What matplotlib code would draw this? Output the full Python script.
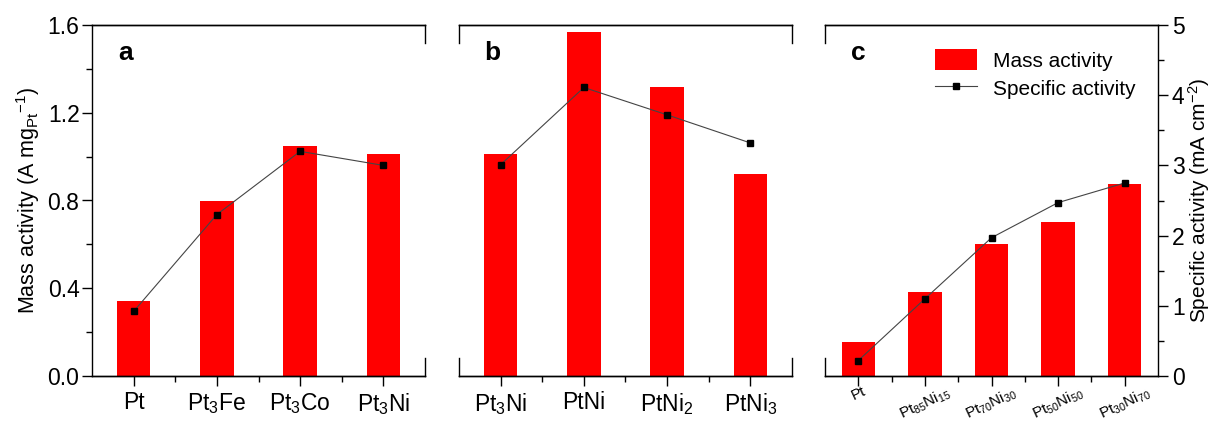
import matplotlib
matplotlib.use("Agg")
import matplotlib.pyplot as plt
import numpy as np
from matplotlib.ticker import MultipleLocator, FixedLocator

plt.rcParams['font.family'] = ['Liberation Sans', 'DejaVu Sans']
plt.rcParams['mathtext.fontset'] = 'custom'
plt.rcParams['mathtext.rm'] = 'Liberation Sans'
plt.rcParams['mathtext.it'] = 'Liberation Sans'
plt.rcParams['mathtext.bf'] = 'Liberation Sans:bold'

# panel a
labels_a = ["Pt", r"Pt$_3$Fe", r"Pt$_3$Co", r"Pt$_3$Ni"]
mass_a = [0.342, 0.798, 1.048, 1.013]
spec_a = [0.92, 2.30, 3.20, 3.00]

# panel b
labels_b = [r"Pt$_3$Ni", "PtNi", r"PtNi$_2$", r"PtNi$_3$"]
mass_b = [1.010, 1.567, 1.316, 0.919]
spec_b = [3.01, 4.11, 3.72, 3.32]

# panel c
labels_c = ["Pt", r"Pt$_{85}$Ni$_{15}$", r"Pt$_{70}$Ni$_{30}$",
            r"Pt$_{50}$Ni$_{50}$", r"Pt$_{30}$Ni$_{70}$"]
mass_c = [0.156, 0.383, 0.600, 0.703, 0.874]
spec_c = [0.22, 1.10, 1.97, 2.47, 2.75]

W, H = 1214, 423
fig = plt.figure(figsize=(W / 100, H / 100), dpi=100)

bottom = 1 - 376 / H
top = 1 - 25 / H
lefts = [92, 459, 825]
width_px = 333

panels = [
    ("a", labels_a, mass_a, spec_a, 0.4),
    ("b", labels_b, mass_b, spec_b, 0.4),
    ("c", labels_c, mass_c, spec_c, 0.5),
]

stub = 18 / 351
fs = 16.5

for i, (tag, labels, mass, spec, bw) in enumerate(panels):
    ax = fig.add_axes([lefts[i] / W, bottom, width_px / W, top - bottom])
    n = len(labels)
    x = np.arange(n)
    bars = ax.bar(x, mass, width=bw, color='#ff0000', edgecolor='none',
                  label='Mass activity', zorder=2)
    ax.set_xlim(-0.5, n - 0.5)
    ax.set_ylim(0, 1.6)

    ax2 = ax.twinx()
    ax2.set_ylim(0, 5)
    line, = ax2.plot(x, spec, color='#444444', lw=0.8, marker='s',
                     markersize=5, markerfacecolor='black',
                     markeredgecolor='black', label='Specific activity',
                     zorder=3)

    for a in (ax, ax2):
        for s in a.spines.values():
            s.set_linewidth(1.0)
        a.spines['left'].set_visible(False)
        a.spines['right'].set_visible(False)

    # x ticks
    ax.xaxis.set_major_locator(FixedLocator(x))
    ax.xaxis.set_minor_locator(FixedLocator(x[:-1] + 0.5))
    ax.tick_params(axis='x', which='major', direction='out', length=7,
                   width=1, labelsize=fs, pad=4)
    ax.tick_params(axis='x', which='minor', direction='out', length=4,
                   width=1)
    if tag == "c":
        # rotated labels centred on their ticks
        ax.set_xticklabels(labels, rotation=25, ha='center', va='top',
                           fontsize=11)
        ax.tick_params(axis='x', which='major', pad=-1)
    else:
        ax.set_xticklabels(labels)

    # stub spines
    def stubs(xpos):
        ax.plot([xpos, xpos], [1 - stub, 1], transform=ax.transAxes,
                color='black', lw=1.0, clip_on=False, zorder=5)
        ax.plot([xpos, xpos], [0, stub], transform=ax.transAxes,
                color='black', lw=1.0, clip_on=False, zorder=5)

    if tag == "a":
        ax.spines['left'].set_visible(True)
        ax.yaxis.set_major_locator(MultipleLocator(0.4))
        ax.yaxis.set_minor_locator(MultipleLocator(0.2))
        ax.yaxis.set_major_formatter(plt.FuncFormatter(lambda v, p: f"{v:.1f}"))
        ax.tick_params(axis='y', which='major', direction='out', length=7,
                       width=1, labelsize=fs, pad=2)
        ax.tick_params(axis='y', which='minor', direction='out', length=4,
                       width=1)
        ax.set_ylabel(r"Mass activity (A mg$_{Pt}$$^{-1}$)", fontsize=15.5,
                      labelpad=4)
        stubs(1)
        ax2.set_yticks([])
    elif tag == "b":
        ax.set_yticks([])
        ax2.set_yticks([])
        stubs(0)
        stubs(1)
    else:
        ax.set_yticks([])
        stubs(0)
        ax2.spines['right'].set_visible(True)
        ax2.yaxis.set_major_locator(MultipleLocator(1))
        ax2.yaxis.set_minor_locator(MultipleLocator(0.5))
        ax2.tick_params(axis='y', which='major', direction='out', length=7,
                        width=1, labelsize=fs, pad=3)
        ax2.tick_params(axis='y', which='minor', direction='out', length=4,
                        width=1)
        ax2.set_ylabel(r"Specific activity (mA cm$^{-2}$)", fontsize=15,
                       labelpad=1)
        ax2.legend([bars, line], ['Mass activity', 'Specific activity'],
                   loc='upper right', bbox_to_anchor=(0.99, 0.985),
                   frameon=False, fontsize=15, handlelength=2.0,
                   handleheight=1.2, handletextpad=0.8, labelspacing=0.3)

    ax.text(0.1, 0.92, tag, transform=ax.transAxes, fontsize=19,
            fontweight='bold', ha='center', va='center')

fig.savefig("out.png", dpi=100)
